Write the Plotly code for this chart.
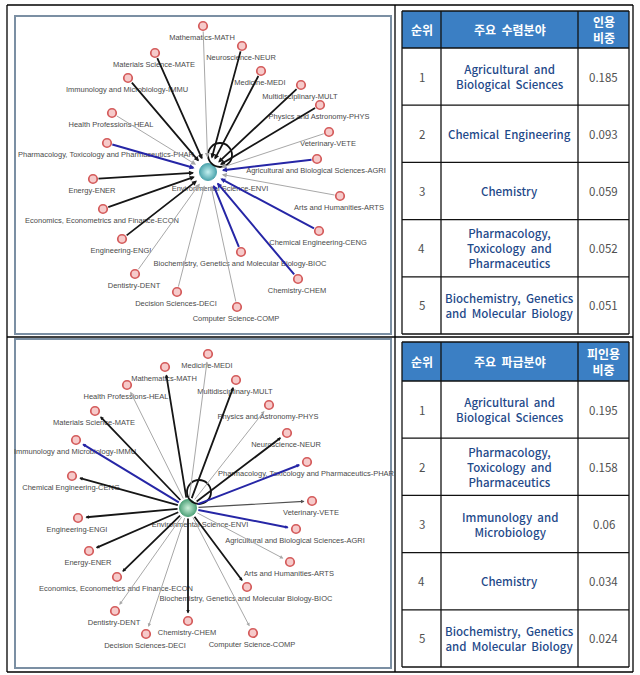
import math
import plotly.graph_objects as go

W, H = 640, 675

# ---------------- data ----------------
field_names = {
    "MATH": "Mathematics-MATH", "NEUR": "Neuroscience-NEUR", "MATE": "Materials Science-MATE",
    "MEDI": "Medicine-MEDI", "IMMU": "Immunology and Microbiology-IMMU",
    "MULT": "Multidisciplinary-MULT", "PHYS": "Physics and Astronomy-PHYS",
    "HEAL": "Health Professions-HEAL", "VETE": "Veterinary-VETE",
    "PHAR": "Pharmacology, Toxicology and Pharmaceutics-PHAR",
    "AGRI": "Agricultural and Biological Sciences-AGRI", "ENER": "Energy-ENER",
    "ARTS": "Arts and Humanities-ARTS", "ECON": "Economics, Econometrics and Finance-ECON",
    "CENG": "Chemical Engineering-CENG", "ENGI": "Engineering-ENGI",
    "BIOC": "Biochemistry, Genetics and Molecular Biology-BIOC", "DENT": "Dentistry-DENT",
    "CHEM": "Chemistry-CHEM", "DECI": "Decision Sciences-DECI", "COMP": "Computer Science-COMP",
}
center_name = "Environmental Science-ENVI"

# graph 1 : fields citing ENVI (수렴), layout coordinates of the network drawing
g1_codes = ["MATH", "NEUR", "MATE", "MEDI", "IMMU", "MULT", "PHYS", "HEAL", "VETE", "PHAR", "AGRI",
            "ENER", "ARTS", "ECON", "CENG", "ENGI", "BIOC", "DENT", "CHEM", "DECI", "COMP"]
g1_x = [203, 242, 155, 261, 128, 301, 320, 112, 329, 107, 317, 93, 340, 103, 319, 122, 241, 135, 298, 177, 237]
g1_y = [26, 46, 53, 71, 78, 85, 105, 113, 132, 143, 159, 179, 196, 209, 231, 239, 252, 274, 279, 292, 307]
g1_tie = ["gray", "black", "black", "black", "black", "black", "black", "gray", "gray", "blue", "blue",
          "black", "gray", "black", "blue", "black", "blue", "gray", "blue", "gray", "gray"]
g1_center = (208, 172)

# graph 2 : fields cited by ENVI (파급)
g2_codes = ["MEDI", "MATH", "MULT", "HEAL", "PHYS", "MATE", "NEUR", "IMMU", "PHAR", "CENG", "VETE",
            "ENGI", "AGRI", "ENER", "ARTS", "ECON", "BIOC", "DENT", "CHEM", "DECI", "COMP"]
g2_x = [208, 165, 236, 127, 269, 95, 287, 76, 307, 72, 312, 78, 296, 89, 290, 117, 247, 115, 188, 146, 253]
g2_y = [354, 367, 380, 385, 405, 411, 433, 440, 462, 476, 501, 518, 529, 551, 562, 577, 587, 611, 621, 634, 633]
g2_tie = ["gray", "black", "black", "gray", "gray", "black", "black", "blue", "blue", "black", "dark",
          "black", "blue", "black", "gray", "black", "black", "gray", "black", "gray", "gray"]
g2_center = (188, 508)

# tables
t1_header = ["순위", "주요  수렴분야", "인용<br>비중"]
t1_fields = ["Agricultural  and<br>Biological  Sciences", "Chemical  Engineering", "Chemistry",
             "Pharmacology,<br>Toxicology  and<br>Pharmaceutics",
             "Biochemistry,  Genetics<br>and  Molecular  Biology"]
t1_share = [0.185, 0.093, 0.059, 0.052, 0.051]

t2_header = ["순위", "주요  파급분야", "피인용<br>비중"]
t2_fields = ["Agricultural  and<br>Biological  Sciences",
             "Pharmacology,<br>Toxicology  and<br>Pharmaceutics",
             "Immunology  and<br>Microbiology", "Chemistry",
             "Biochemistry,  Genetics<br>and  Molecular  Biology"]
t2_share = [0.195, 0.158, 0.06, 0.034, 0.024]
ranks = [1, 2, 3, 4, 5]

# ---------------- styles ----------------
tie_style = {
    "black": dict(color="#161616", width=1.8),
    "blue": dict(color="#2626a6", width=2.0),
    "gray": dict(color="#a8a8a8", width=1.0),
    "dark": dict(color="#505050", width=1.2),
}
LABEL_FONT = dict(family="Liberation Sans, Arial, sans-serif", size=7.5, color="#4a4a4a")
CJK = "Noto Sans CJK KR, Noto Sans, sans-serif"

fig = go.Figure()
annotations = []
shapes = []

def line(x0, y0, x1, y1, color="#000", width=1.2):
    shapes.append(dict(type="line", xref="x", yref="y", x0=x0, y0=y0, x1=x1, y1=y1,
                       line=dict(color=color, width=width)))

def network(codes, xs, ys, ties, center, inward, center_col, center_grad, loop_c):
    cx, cy = center
    for c, nx, ny, t in zip(codes, xs, ys, ties):
        dx, dy = nx - cx, ny - cy
        d = math.hypot(dx, dy)
        ux, uy = dx / d, dy / d
        s = tie_style[t]
        if inward:
            tx, ty = nx - 4 * ux, ny - 4 * uy
            hx, hy = cx + 14 * ux, cy + 14 * uy
            asize = max(0.3, 1.0 / s["width"])
        else:
            tx, ty = cx + 9 * ux, cy + 9 * uy
            hx, hy = nx - 7.5 * ux, ny - 7.5 * uy
            asize = max(0.3, 0.7 / s["width"])
        annotations.append(dict(x=hx, y=hy, ax=tx, ay=ty, xref="x", yref="y", axref="x", ayref="y",
                                text="", showarrow=True, arrowhead=2, arrowsize=asize,
                                arrowwidth=s["width"],
                                arrowcolor=s["color"]))
    # self loop
    shapes.append(dict(type="circle", xref="x", yref="y", x0=loop_c[0] - 12, x1=loop_c[0] + 12,
                       y0=loop_c[1] - 12, y1=loop_c[1] + 12, line=dict(color="#111", width=1.8)))
    # nodes
    fig.add_trace(go.Scatter(x=xs, y=ys, mode="markers", hoverinfo="skip",
                             marker=dict(size=8.5, color="#f6caca", line=dict(color="#d45a5a", width=1.7))))
    fig.add_trace(go.Scatter(x=[x - 1 for x in xs], y=[y + 12.5 for y in ys], mode="text",
                             text=[field_names[c] for c in codes], textfont=LABEL_FONT,
                             hoverinfo="skip"))
    fig.add_trace(go.Scatter(x=[cx], y=[cy], mode="markers", hoverinfo="skip",
                             marker=dict(size=17, color=center_col,
                                         gradient=dict(type="radial", color=center_grad),
                                         line=dict(color=center_col, width=1))))
    fig.add_trace(go.Scatter(x=[cx + 12], y=[cy + 17.5], mode="text", text=[center_name],
                             textfont=LABEL_FONT, hoverinfo="skip"))

network(g1_codes, g1_x, g1_y, g1_tie, g1_center, True, "#4fa6ae", "#c4f0f0", (220, 155))
network(g2_codes, g2_x, g2_y, g2_tie, g2_center, False, "#52a47c", "#cdf0da", (199, 492))

# ---------------- tables ----------------
COLS = [402, 441, 578, 629]

def table(top, hdr_bottom, bottom, header, fields, shares):
    shapes.append(dict(type="rect", xref="x", yref="y", x0=COLS[0], x1=COLS[3], y0=top, y1=hdr_bottom,
                       fillcolor="#3b7fc4", line=dict(width=0), layer="below"))
    row_h = (bottom - hdr_bottom) / len(fields)
    ys = [hdr_bottom + i * row_h for i in range(len(fields) + 1)]
    for y in [top] + ys:
        line(COLS[0], y, COLS[3], y, "#111", 1.3)
    for x in COLS:
        line(x, top, x, bottom, "#111", 1.3)
    centers = [(COLS[i] + COLS[i + 1]) / 2 for i in range(3)]
    hy = (top + hdr_bottom) / 2
    for cxp, txt in zip(centers, header):
        annotations.append(dict(x=cxp, y=hy, xref="x", yref="y", text="<b>" + txt + "</b>",
                                showarrow=False, font=dict(family=CJK, size=12, color="white")))
    for i, (r, f, s) in enumerate(zip(ranks, fields, shares)):
        yc = (ys[i] + ys[i + 1]) / 2
        annotations.append(dict(x=centers[0], y=yc, xref="x", yref="y", text=str(r), showarrow=False,
                                font=dict(family=CJK, size=11.5, color="#505050")))
        annotations.append(dict(x=centers[1], y=yc, xref="x", yref="y", text=f, showarrow=False,
                                font=dict(family=CJK, size=11.5, color="#1f4a8a", weight=500)))
        annotations.append(dict(x=centers[2], y=yc, xref="x", yref="y", text=f"{s:g}", showarrow=False,
                                font=dict(family=CJK, size=11.5, color="#505050")))

table(11, 48, 334, t1_header, t1_fields, t1_share)
table(342, 381, 667, t2_header, t2_fields, t2_share)

# ---------------- frames ----------------
for (x0, y0, x1, y1) in [(15, 16, 391, 334), (15, 339, 391, 668)]:
    shapes.append(dict(type="rect", xref="x", yref="y", x0=x0, y0=y0, x1=x1, y1=y1,
                       line=dict(color="#7b8fa3", width=2), layer="below"))
line(7, 5, 633, 5, "#000", 1.3)
line(7, 672, 633, 672, "#000", 1.3)
line(7, 5, 7, 672, "#000", 1.3)
line(633, 5, 633, 672, "#000", 1.3)
line(395, 5, 395, 672, "#000", 1.3)
line(7, 337, 633, 337, "#000", 1.3)

fig.update_layout(
    width=W, height=H, margin=dict(l=0, r=0, t=0, b=0),
    paper_bgcolor="white", plot_bgcolor="white", showlegend=False,
    xaxis=dict(range=[0, W], visible=False, fixedrange=True),
    yaxis=dict(range=[H, 0], visible=False, fixedrange=True),
    annotations=annotations, shapes=shapes,
)
fig.write_html("out.html", config={"displayModeBar": False},
               post_script="document.body.style.margin='0';document.body.style.overflow='hidden';")
